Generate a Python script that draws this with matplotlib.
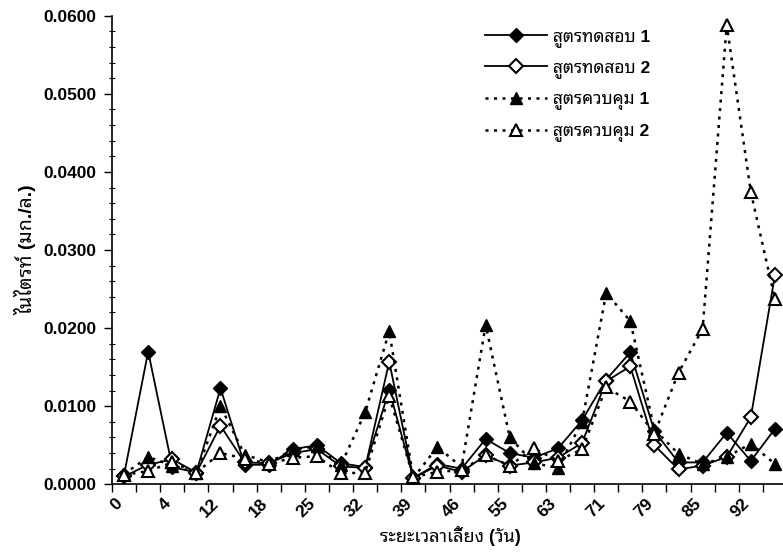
import matplotlib
matplotlib.use('Agg')
import matplotlib.pyplot as plt
import matplotlib.transforms as mtransforms
from matplotlib import font_manager
from matplotlib.ticker import MultipleLocator, FuncFormatter

# ---- data ----
day_labels = ['0', '4', '12', '18', '25', '32', '39', '46', '55', '63', '71', '79', '85', '92']
test1 = [0.0012, 0.0170, 0.0022, 0.0015, 0.0123, 0.0025, 0.0025, 0.0045, 0.0050, 0.0027,
         0.0022, 0.0121, 0.0008, 0.0026, 0.0020, 0.0058, 0.0040, 0.0034, 0.0046, 0.0082,
         0.0134, 0.0169, 0.0068, 0.0028, 0.0028, 0.0066, 0.0030, 0.0071]
test2 = [0.0010, 0.0025, 0.0032, 0.0015, 0.0075, 0.0028, 0.0027, 0.0040, 0.0045, 0.0023,
         0.0021, 0.0157, 0.0008, 0.0024, 0.0016, 0.0037, 0.0024, 0.0028, 0.0034, 0.0053,
         0.0132, 0.0151, 0.0050, 0.0019, 0.0024, 0.0035, 0.0086, 0.0268]
ctrl1 = [0.0013, 0.0035, 0.0024, 0.0015, 0.0100, 0.0038, 0.0028, 0.0044, 0.0049, 0.0025,
         0.0092, 0.0196, 0.0008, 0.0048, 0.0022, 0.0204, 0.0060, 0.0027, 0.0021, 0.0080,
         0.0245, 0.0209, 0.0070, 0.0039, 0.0026, 0.0035, 0.0052, 0.0026]
ctrl2 = [0.0012, 0.0017, 0.0028, 0.0015, 0.0040, 0.0033, 0.0026, 0.0034, 0.0036, 0.0014,
         0.0015, 0.0113, 0.0009, 0.0016, 0.0018, 0.0037, 0.0024, 0.0046, 0.0030, 0.0045,
         0.0124, 0.0106, 0.0065, 0.0143, 0.0199, 0.0588, 0.0374, 0.0237]
series_names = ['สูตรทดสอบ 1', 'สูตรทดสอบ 2', 'สูตรควบคุม 1', 'สูตรควบคุม 2']
x_title = 'ระยะเวลาเลี้ยง (วัน)'
y_title = 'ไนไตรท์ (มก./ล.)'

# ---- fonts ----
installed = {f.name for f in font_manager.fontManager.ttflist}
thai_font = 'DejaVu Sans'
for cand in ['Noto Sans Thai Looped', 'Noto Sans Thai', 'Sarabun', 'Tahoma', 'Loma',
             'Garuda', 'Waree', 'Bai Jamjuree']:
    if cand in installed:
        thai_font = cand
        break
fam = ['Liberation Sans', thai_font, 'DejaVu Sans']
plt.rcParams['font.family'] = fam

fig = plt.figure(figsize=(7.83, 5.54), dpi=100)
ax = fig.add_axes([112 / 783, 69.7 / 554, 675 / 783, 468.6 / 554])

n = len(test1)
xs = list(range(n))
dot = (0, (1.2, 2.2))
ax.plot(xs, test1, color='black', lw=1.3, marker='D', ms=7.5, mfc='black', mec='black',
        label=series_names[0])
ax.plot(xs, test2, color='black', lw=1.3, marker='D', ms=7, mfc='white', mec='black',
        mew=1.5, label=series_names[1])
ax.plot(xs, ctrl1, color='black', lw=1.8, ls=dot, marker='^', ms=9, mfc='black', mec='black',
        label=series_names[2])
ax.plot(xs, ctrl2, color='black', lw=1.8, ls=dot, marker='^', ms=8.5, mfc='white', mec='black',
        mew=1.5, label=series_names[3])

ax.set_xlim(-0.5, n - 0.5)
ax.set_ylim(0, 0.06)

for s in ['top', 'right']:
    ax.spines[s].set_visible(False)
for s in ['left', 'bottom']:
    ax.spines[s].set_linewidth(1.2)

ax.yaxis.set_major_locator(MultipleLocator(0.01))
ax.yaxis.set_minor_locator(MultipleLocator(0.002))
ax.yaxis.set_major_formatter(FuncFormatter(lambda v, p: '%.4f' % v))
ax.tick_params(axis='y', which='major', direction='out', length=6, width=1, labelsize=12.5, pad=5)
ax.tick_params(axis='y', which='minor', direction='inout', length=4, width=0.8)
for t in ax.get_yticklabels():
    t.set_fontweight('bold')

ax.set_xticks(list(range(0, n, 2)))
ax.set_xticklabels(day_labels, rotation=45, ha='right', va='top', rotation_mode='anchor',
                   fontweight='bold')
ax.set_xticks([i - 0.5 for i in range(n + 1)], minor=True)
ax.tick_params(axis='x', which='major', length=0, labelsize=12.5, pad=8)
ax.tick_params(axis='x', which='minor', direction='out', length=6, width=1)
shift = mtransforms.ScaledTranslation(-9 / 100, 0, fig.dpi_scale_trans)
for t in ax.get_xticklabels():
    t.set_transform(t.get_transform() + shift)

ax.set_xlabel(x_title, fontsize=13, fontweight='bold')
ax.xaxis.set_label_coords(0.502, -0.088)
ax.set_ylabel(y_title, fontsize=14, fontweight='bold', labelpad=5)

leg = ax.legend(loc='upper left', bbox_to_anchor=(476 / 783, 1 - 20 / 554),
                bbox_transform=fig.transFigure, frameon=False,
                prop={'size': 12.5, 'weight': 'bold'},
                handlelength=3.6, handletextpad=0.35, labelspacing=0.78, borderpad=0)

fig.savefig('out.png', dpi=100)
